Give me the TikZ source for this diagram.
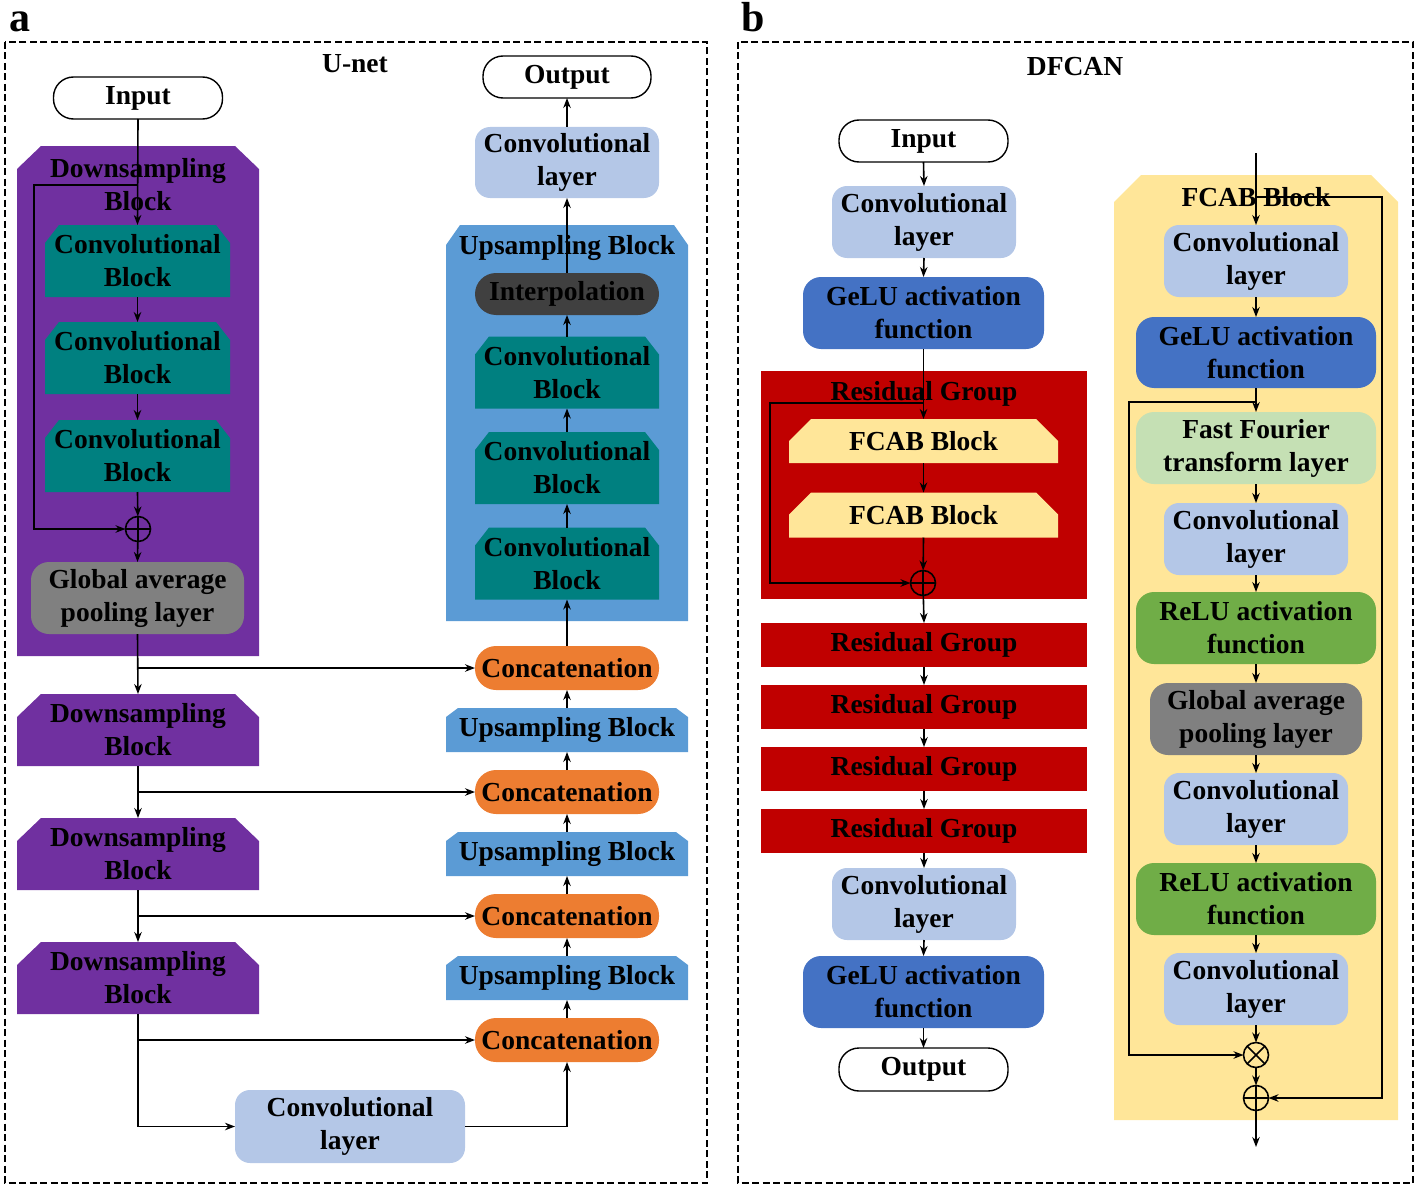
\documentclass[tikz,border=0pt]{standalone}
\usepackage{fontspec}
\setmainfont{Liberation Serif}
\usetikzlibrary{arrows.meta}
\definecolor{cPurple}{HTML}{7030A0}
\definecolor{cTeal}{HTML}{008080}
\definecolor{cUps}{HTML}{5B9BD5}
\definecolor{cLblue}{HTML}{B4C7E7}
\definecolor{cGelu}{HTML}{4472C4}
\definecolor{cRed}{HTML}{C00000}
\definecolor{cFcab}{HTML}{FFE699}
\definecolor{cFft}{HTML}{C5E0B4}
\definecolor{cRelu}{HTML}{70AD47}
\definecolor{cOrange}{HTML}{ED7D31}
\definecolor{cGray}{HTML}{808080}
\definecolor{cInterp}{HTML}{404040}
% chamfered block: name, colour, x, y, w, h, chamfer-x, chamfer-y, text
\newcommand\chblk[9]{%
  \fill[#2] ({#3-#5/2},{#4+#6/2}) -- ({#3-#5/2},{#4-#6/2+#8}) -- ({#3-#5/2+#7},{#4-#6/2})
    -- ({#3+#5/2-#7},{#4-#6/2}) -- ({#3+#5/2},{#4-#6/2+#8}) -- ({#3+#5/2},{#4+#6/2}) -- cycle;
  \node[txt, minimum width=#5pt, minimum height=#6pt] (#1) at (#3,#4) {#9};
}
\begin{document}
\begin{tikzpicture}[x=1pt,y=-1pt,
  txt/.style={align=center, inner sep=0pt, outer sep=0pt, text=black,
    font=\fontsize{27.5}{33}\selectfont\bfseries},
  rbox/.style={txt, fill=#1, rounded corners=15pt},
  stad/.style={txt, fill=#1, rounded corners=21pt},
  term/.style={txt, fill=white, draw=black, line width=1.4pt, rounded corners=20pt},
  ln/.style={line width=1.6pt},
  arr/.style={ln, -{Stealth[length=10pt,width=7.5pt]}},
  opl/.style={circle, draw, line width=1.6pt, minimum size=25pt, inner sep=0pt, outer sep=0pt,
    path picture={\draw[line width=1.6pt] (path picture bounding box.north) -- (path picture bounding box.south)
      (path picture bounding box.west) -- (path picture bounding box.east);}},
  otm/.style={circle, draw, line width=1.6pt, minimum size=25pt, inner sep=0pt, outer sep=0pt,
    path picture={\draw[line width=1.6pt] (path picture bounding box.north west) -- (path picture bounding box.south east)
      (path picture bounding box.north east) -- (path picture bounding box.south west);}},
  frame/.style={draw=black, line width=1.5pt, dash pattern=on 7pt off 3.5pt},
  ttl/.style={txt},
  plbl/.style={inner sep=0pt, anchor=base, font=\fontsize{42}{42}\selectfont\bfseries}
]
\useasboundingbox (0,0) rectangle (1418,1188);

% ---------------- frames and titles
\draw[frame] (5,42) rectangle (707,1183);
\draw[frame] (738,42) rectangle (1413,1183);
\node[plbl] (la) at (20,32) {a};
\node[plbl] (lb) at (753,32) {b};
\node[ttl] (tU) at (355,64) {U-net};
\node[ttl] (tD) at (1075,67) {DFCAN};

% ================= panel a : U-net
\node[term, minimum width=169pt, minimum height=42pt] (inA) at (138,98) {Input};
\chblk{dsA}{cPurple}{138}{401}{242}{510}{24}{23}{}
\node[txt] (dsAt) at (138,185) {Downsampling\\Block};
\chblk{cb1}{cTeal}{137.5}{261}{185}{72}{14}{18}{Convolutional\\Block}
\chblk{cb2}{cTeal}{137.5}{358}{185}{72}{14}{18}{Convolutional\\Block}
\chblk{cb3}{cTeal}{137.5}{456}{185}{72}{14}{18}{Convolutional\\Block}
\node[opl] (plusA) at (138,529) {};
\node[rbox=cGray, minimum width=213pt, minimum height=72pt, rounded corners=18pt] (gapA) at (137.5,598) {Global average\\pooling layer};
\chblk{ds2}{cPurple}{138}{730}{242}{72}{24}{23}{Downsampling\\Block}
\chblk{ds3}{cPurple}{138}{854}{242}{72}{24}{23}{Downsampling\\Block}
\chblk{ds4}{cPurple}{138}{978}{242}{72}{24}{23}{Downsampling\\Block}
\node[rbox=cLblue, minimum width=230pt, minimum height=73pt] (convA) at (350,1126.5) {Convolutional\\layer};

\node[term, minimum width=168pt, minimum height=42pt] (outA) at (567,77) {Output};
\node[rbox=cLblue, minimum width=184pt, minimum height=71pt] (convT) at (567,162.5) {Convolutional\\layer};
\chblk{usA}{cUps}{567}{423}{242}{396}{14}{20}{}
\node[txt] (usAt) at (567,248) {Upsampling Block};
\node[stad=cInterp, minimum width=184pt, minimum height=42pt] (interp) at (567,294) {Interpolation};
\chblk{ucb1}{cTeal}{567}{372.5}{184}{72}{14}{18}{Convolutional\\Block}
\chblk{ucb2}{cTeal}{567}{468}{184}{72}{14}{18}{Convolutional\\Block}
\chblk{ucb3}{cTeal}{567}{563.5}{184}{72}{14}{18}{Convolutional\\Block}
\node[stad=cOrange, minimum width=184pt, minimum height=44pt] (cat1) at (567,668) {Concatenation};
\chblk{us2}{cUps}{567}{730}{242}{44}{12}{9}{Upsampling Block}
\node[stad=cOrange, minimum width=184pt, minimum height=44pt] (cat2) at (567,792) {Concatenation};
\chblk{us3}{cUps}{567}{854}{242}{44}{12}{9}{Upsampling Block}
\node[stad=cOrange, minimum width=184pt, minimum height=44pt] (cat3) at (567,916) {Concatenation};
\chblk{us4}{cUps}{567}{978}{242}{44}{12}{9}{Upsampling Block}
\node[stad=cOrange, minimum width=184pt, minimum height=44pt] (cat4) at (567,1040) {Concatenation};

% ================= panel b : DFCAN, left column
\node[term, minimum width=169pt, minimum height=42pt] (inB) at (923.5,141) {Input};
\node[rbox=cLblue, minimum width=184pt, minimum height=72pt] (convB1) at (924,222) {Convolutional\\layer};
\node[rbox=cGelu, minimum width=241pt, minimum height=72pt, rounded corners=18pt] (geluB1) at (923.5,313) {GeLU activation\\function};
\node[txt, fill=cRed, minimum width=326pt, minimum height=228pt] (rgA) at (924,485) {};
\node[txt] (rgAt) at (924,394) {Residual Group};
\chblk{fcab1}{cFcab}{923.5}{441}{269}{44}{22}{22}{FCAB Block}
\chblk{fcab2}{cFcab}{923.5}{515}{269}{45}{22}{22}{FCAB Block}
\node[opl] (plusB) at (923,583) {};
\node[txt, fill=cRed, minimum width=326pt, minimum height=44pt] (rg2) at (924,645) {Residual Group};
\node[txt, fill=cRed, minimum width=326pt, minimum height=44pt] (rg3) at (924,707) {Residual Group};
\node[txt, fill=cRed, minimum width=326pt, minimum height=44pt] (rg4) at (924,769) {Residual Group};
\node[txt, fill=cRed, minimum width=326pt, minimum height=44pt] (rg5) at (924,831) {Residual Group};
\node[rbox=cLblue, minimum width=184pt, minimum height=72pt] (convB2) at (924,904) {Convolutional\\layer};
\node[rbox=cGelu, minimum width=241pt, minimum height=72pt, rounded corners=18pt] (geluB2) at (923.5,992) {GeLU activation\\function};
\node[term, minimum width=169pt, minimum height=43pt] (outB) at (923.5,1069.5) {Output};

% ================= panel b : FCAB block, right column
\chblk{fcabB}{cFcab}{1256}{647.5}{284}{945}{27}{27}{}
\node[txt] (fcabBt) at (1256,197) {FCAB Block};
\node[rbox=cLblue, minimum width=184pt, minimum height=72pt] (convF1) at (1256,261) {Convolutional\\layer};
\node[rbox=cGelu, minimum width=240pt, minimum height=71pt, rounded corners=18pt] (geluF) at (1256,352.5) {GeLU activation\\function};
\node[rbox=cFft, minimum width=240pt, minimum height=72pt, rounded corners=18pt] (fft) at (1256,448) {Fast Fourier\\transform layer};
\node[rbox=cLblue, minimum width=184pt, minimum height=72pt] (convF2) at (1256,539) {Convolutional\\layer};
\node[rbox=cRelu, minimum width=240pt, minimum height=72pt, rounded corners=18pt] (reluF1) at (1256,628) {ReLU activation\\function};
\node[rbox=cGray, minimum width=212pt, minimum height=72pt, rounded corners=18pt] (gapF) at (1256,719) {Global average\\pooling layer};
\node[rbox=cLblue, minimum width=184pt, minimum height=72pt] (convF3) at (1256,809) {Convolutional\\layer};
\node[rbox=cRelu, minimum width=240pt, minimum height=72pt, rounded corners=18pt] (reluF2) at (1256,899) {ReLU activation\\function};
\node[rbox=cLblue, minimum width=184pt, minimum height=72pt] (convF4) at (1256,989) {Convolutional\\layer};
\node[otm] (timesF) at (1256,1055) {};
\node[opl] (plusF) at (1256,1098) {};

% ================= connectors panel a
\coordinate (brA) at (138,185);
\coordinate (brA2) at (34,185);
\draw[arr] (inA.south) -- (cb1.north);
\draw[arr] (brA) -- (brA2) |- (plusA);
\draw[arr] (cb1.south) -- (cb2.north);
\draw[arr] (cb2.south) -- (cb3.north);
\draw[arr] (cb3.south) -- (plusA);
\draw[arr] (plusA) -- (gapA.north);
\draw[arr] (gapA.south) -- (ds2.north);
\draw[arr] (gapA.south |- cat1.west) -- (cat1.west);
\draw[arr] (ds2.south) -- (ds3.north);
\draw[arr] (ds2.south |- cat2.west) -- (cat2.west);
\draw[arr] (ds3.south) -- (ds4.north);
\draw[arr] (ds3.south |- cat3.west) -- (cat3.west);
\draw[arr] (ds4.south |- cat4.west) -- (cat4.west);
\draw[arr] (ds4.south) |- (convA.west);
\draw[arr] (convA.east) -| (cat4.south);
\draw[arr] (cat4.north) -- (us4.south);
\draw[arr] (us4.north) -- (cat3.south);
\draw[arr] (cat3.north) -- (us3.south);
\draw[arr] (us3.north) -- (cat2.south);
\draw[arr] (cat2.north) -- (us2.south);
\draw[arr] (us2.north) -- (cat1.south);
\draw[arr] (cat1.north) -- (ucb3.south);
\draw[arr] (ucb3.north) -- (ucb2.south);
\draw[arr] (ucb2.north) -- (ucb1.south);
\draw[arr] (ucb1.north) -- (interp.south);
\draw[arr] (interp.north) -- (convT.south);
\draw[arr] (convT.north) -- (outA.south);

% ================= connectors panel b, left
\coordinate (brB) at (923,403);
\coordinate (brB2) at (770,403);
\draw[arr] (inB.south) -- (convB1.north);
\draw[arr] (convB1.south) -- (geluB1.north);
\draw[arr] (geluB1.south) -- (fcab1.north);
\draw[arr] (brB) -- (brB2) |- (plusB);
\draw[arr] (fcab1.south) -- (fcab2.north);
\draw[arr] (fcab2.south) -- (plusB);
\draw[arr] (plusB) -- (rg2.north);
\draw[arr] (rg2.south) -- (rg3.north);
\draw[arr] (rg3.south) -- (rg4.north);
\draw[arr] (rg4.south) -- (rg5.north);
\draw[arr] (rg5.south) -- (convB2.north);
\draw[arr] (convB2.south) -- (geluB2.north);
\draw[arr] (geluB2.south) -- (outB.north);

% ================= connectors panel b, right
\coordinate (fin) at (1256,153);
\coordinate (brF) at (1256,197);
\coordinate (brF2) at (1382,197);
\coordinate (brG) at (1256,402);
\coordinate (brG2) at (1129,402);
\coordinate (fout) at (1256,1147);
\draw[arr] (fin) -- (convF1.north);
\draw[arr] (brF) -- (brF2) |- (plusF);
\draw[arr] (convF1.south) -- (geluF.north);
\draw[arr] (geluF.south) -- (fft.north);
\draw[arr] (brG) -- (brG2) |- (timesF);
\draw[arr] (fft.south) -- (convF2.north);
\draw[arr] (convF2.south) -- (reluF1.north);
\draw[arr] (reluF1.south) -- (gapF.north);
\draw[arr] (gapF.south) -- (convF3.north);
\draw[arr] (convF3.south) -- (reluF2.north);
\draw[arr] (reluF2.south) -- (convF4.north);
\draw[arr] (convF4.south) -- (timesF);
\draw[arr] (timesF) -- (plusF);
\draw[arr] (plusF) -- (fout);
\end{tikzpicture}
\end{document}
